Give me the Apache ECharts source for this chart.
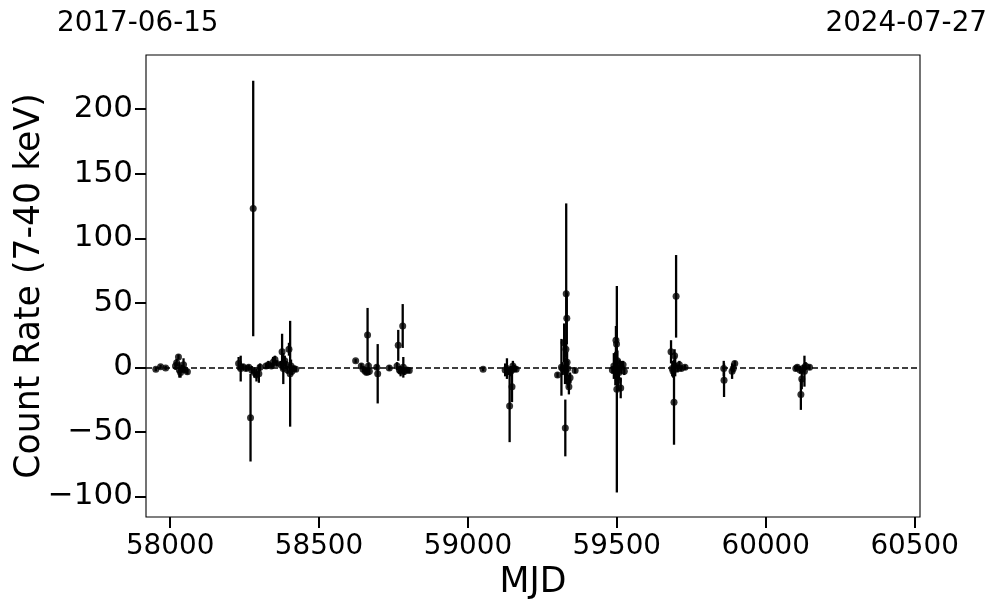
<!DOCTYPE html>
<html>
<head>
<meta charset="utf-8">
<script src="https://cdn.jsdelivr.net/npm/echarts@6/dist/echarts.min.js"></script>
<style>html,body{margin:0;padding:0;background:#fff}#c{width:997px;height:613px}</style>
</head>
<body>
<div id="c"></div>
<script>
// MJD of each observation
const mjd = [
  57952,57968,57985,58018,58022,58028,58031,58035,58040,58045,58050,58058,
  58230,58237,58245,58255,58264,58270,58274,58279,58283,58290,58298,58302,58322,58330,58340,58346,58352,58358,58372,58376,58380,58385,58390,58394,58399,58403,58406,58409,58415,58422,
  58623,58642,58648,58655,58660,58663,58666,58669,58694,58697,58736,58762,58766,58770,58774,58781,58783,58787,58795,58803,
  59051,
  59125,59131,59135,59140,59144,59148,59151,59155,59162,
  59301,59314,59318,59323,59326,59327,59329,59330,59332,59333,59335,59337,59339,59343,59360,
  59485,59490,59495,59497,59499,59500,59502,59505,59507,59509,59513,59515,59521,59525,
  59682,59686,59689,59692,59694,59696,59699,59704,59710,59716,59729,
  59859,59860,59887,59891,59896,
  60101,60106,60115,60118,60121,60125,60130,60134,60147
];
// count rate (7-40 keV)
const rate = [
  -1.5,0.5,-0.5,1,3.5,8,-2,-4,-1,2,-2,-3.5,
  3,-1,0.5,-1,0,-39,-2,123,-4,-6,-5,0,1,2,1,4,6,3,2,12,-1,5,2,-2,14,-5,1,-3,-1,-1.5,
  5,1,-1.5,-3,-4,25,1,-3,0,-5,-0.5,1,17,-2,-3,32,0,-3,-2,-2.5,
  -1.5,
  -2,-1,-3,-30,-3,-15,1,-1,-1.5,
  -6,0,-1,19,-3,-47,14,57,38,4,-1,-11,-15,-8,-2.5,
  -2,1,-1,21,18,-17,5,-10,-4,2,-16,0,2,-3,
  12,-1,-3,-27,9,1,55,-1,2,-1,0,
  -1,-10,-3,-1,3,
  -1,0,-2,-21,-9,-1,-3,1,0
];
// 1-sigma error
const err = [
  1.5,1.5,1.5,3,3,2,6,4,3,5,2,2,
  5,10,2,2,2,34,3,99,4,5,7,3,2,3,2,4,3,2,3,14,12,4,3,3,5,41,5,3,2,2,
  1.5,2,2,2,2,21,3,3,2,23,2,3,12,3,4,17,8,3,2,2,
  1.5,
  5,8,3,28,4,12,4,3,2,
  2,22,5,15,10,22,6,70,20,8,6,5,6,4,2,
  3,10,13,11,8,80,8,8,6,4,8,5,3,3,
  9,6,5,33,5,8,32,3,3,2,2,
  6,13,6,3,2,
  2,2,3,12,8,3,12,3,2
];
const yTicks = [-100,-50,0,50,100,150,200];
const xTicks = [58000,58500,59000,59500,60000,60500];
const dateLeft = '2017-06-15';
const dateRight = '2024-07-27';

const pts = mjd.map((m,i)=>[m, rate[i]]);
const bars = mjd.map((m,i)=>[m, rate[i]-err[i], rate[i]+err[i]]);

const chart = echarts.init(document.getElementById('c'), null, {renderer:'canvas'});
const FONT = 'DejaVu Sans';
chart.setOption({
  animation:false,
  backgroundColor:'#fff',
  grid:{left:146, right:77, top:55, bottom:96, show:true, borderColor:'#000', borderWidth:1.1, backgroundColor:'transparent'},
  xAxis:{
    type:'value', min:57919, max:60518,
    axisLine:{show:false, onZero:false},
    splitLine:{show:false},
    axisTick:{show:true, length:11, lineStyle:{color:'#000', width:2}, customValues:xTicks},
    axisLabel:{color:'#000', fontFamily:FONT, fontSize:27.8, margin:16, customValues:xTicks,
      formatter:v=>String(v)}
  },
  yAxis:{
    type:'value', min:-116, max:242,
    axisLine:{show:false, onZero:false},
    splitLine:{show:false},
    axisTick:{show:true, length:11, lineStyle:{color:'#000', width:2}, customValues:yTicks},
    axisLabel:{color:'#000', fontFamily:FONT, fontSize:31, margin:13, customValues:yTicks,
      formatter:v=>String(v).replace('-','\u2212')}
  },
  graphic:[
    {type:'text', left:57, top:10, style:{text:dateLeft, fontFamily:FONT, fontSize:27.8, fill:'#000'}},
    {type:'text', right:10, top:10, style:{text:dateRight, fontFamily:FONT, fontSize:27.8, fill:'#000'}},
    {type:'text', x:533, y:583, style:{text:'MJD', fontFamily:FONT, fontSize:34.7, fill:'#000', align:'center', verticalAlign:'middle'}},
    {type:'text', x:30, y:286, rotation:Math.PI/2, style:{text:'Count Rate (7-40 keV)', fontFamily:FONT, fontSize:34.7, fill:'#000', align:'center', verticalAlign:'middle'}}
  ],
  series:[
    {
      type:'custom', data:bars, clip:true, z:2,
      renderItem:(params, api)=>{
        const a = api.coord([api.value(0), api.value(1)]);
        const b = api.coord([api.value(0), api.value(2)]);
        return {type:'line', shape:{x1:a[0], y1:a[1], x2:b[0], y2:b[1]}, style:{stroke:'#000', lineWidth:2.3}};
      },
      encode:{x:0, y:[1,2]}
    },
    {
      type:'scatter', data:pts, symbolSize:7, itemStyle:{color:'#000'}, z:3, clip:true,
      markLine:{silent:true, symbol:'none', label:{show:false},
        lineStyle:{color:'#000', type:[6,3], width:1.6},
        data:[{yAxis:0}]}
    }
  ]
});
</script>
</body>
</html>
